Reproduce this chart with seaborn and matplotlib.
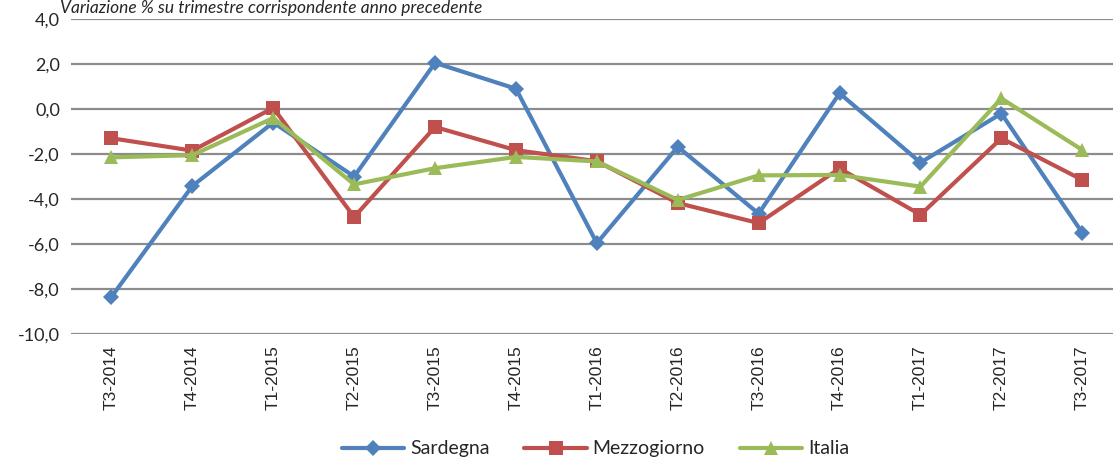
import matplotlib
matplotlib.use("Agg")
import matplotlib.pyplot as plt
import seaborn as sns
import pandas as pd
import numpy as np

quarters = ["T3-2014", "T4-2014", "T1-2015", "T2-2015", "T3-2015", "T4-2015", "T1-2016",
            "T2-2016", "T3-2016", "T4-2016", "T1-2017", "T2-2017", "T3-2017"]
sardegna = [-8.35, -3.42, -0.6, -3.0, 2.05, 0.9, -5.96, -1.68, -4.65, 0.7, -2.38, -0.2, -5.5]
mezzogiorno = [-1.3, -1.85, 0.05, -4.8, -0.8, -1.83, -2.32, -4.18, -5.07, -2.64, -4.7, -1.3, -3.15]
italia = [-2.15, -2.05, -0.4, -3.35, -2.63, -2.13, -2.33, -4.04, -2.95, -2.93, -3.45, 0.47, -1.82]

series_names = ["Sardegna", "Mezzogiorno", "Italia"]
colors = {"Sardegna": "#4F81BD", "Mezzogiorno": "#C0504D", "Italia": "#9BBB59"}
markers = {"Sardegna": "D", "Mezzogiorno": "s", "Italia": "^"}

df = pd.DataFrame({
    "trimestre": quarters * 3,
    "pos": list(range(len(quarters))) * 3,
    "valore": sardegna + mezzogiorno + italia,
    "serie": np.repeat(series_names, len(quarters)),
})

sns.set_style("white")
plt.rcParams["font.family"] = ["Lato", "DejaVu Sans"]

fig = plt.figure(figsize=(11.13, 4.59), dpi=100)
ax = fig.add_axes([0.0638, 0.2723, 0.9362, 0.6863])

sizes = {"Sardegna": 8, "Mezzogiorno": 9.5, "Italia": 10}
for name in series_names:
    sub = df[df["serie"] == name]
    sns.lineplot(data=sub, x="pos", y="valore", ax=ax, color=colors[name],
                 marker=markers[name], markersize=sizes[name], markeredgewidth=0,
                 linewidth=3, label=name, legend=False, zorder=3)

ax.set_ylim(-10, 4)
ax.set_yticks(np.arange(-10, 4.1, 2))
ax.set_yticklabels([f"{v:.1f}".replace(".", ",") for v in np.arange(-10, 4.1, 2)], fontsize=13)
ax.set_xlim(-0.5, 12.38)
ax.set_xticks(range(len(quarters)))
ax.set_xticklabels(quarters, rotation=90, fontsize=12.5, family="Liberation Sans")
ax.set_xlabel("")
ax.set_ylabel("")
ax.yaxis.grid(True, color="#8c8c8c", linewidth=1.6)
ax.set_axisbelow(True)
for s in ax.spines.values():
    s.set_visible(False)
ax.tick_params(axis="both", length=0, pad=8)

fig.text(0.054, 0.999, "Variazione % su trimestre corrispondente anno precedente",
         fontsize=12.5, style="italic", va="top", ha="left")

handles, labels = ax.get_legend_handles_labels()
fig.legend(handles, labels, loc="center", ncol=3, bbox_to_anchor=(0.535, 0.022),
           frameon=False, fontsize=14, handlelength=3.2, columnspacing=1.8,
           handletextpad=0.3)

fig.savefig("out.png", dpi=100)
